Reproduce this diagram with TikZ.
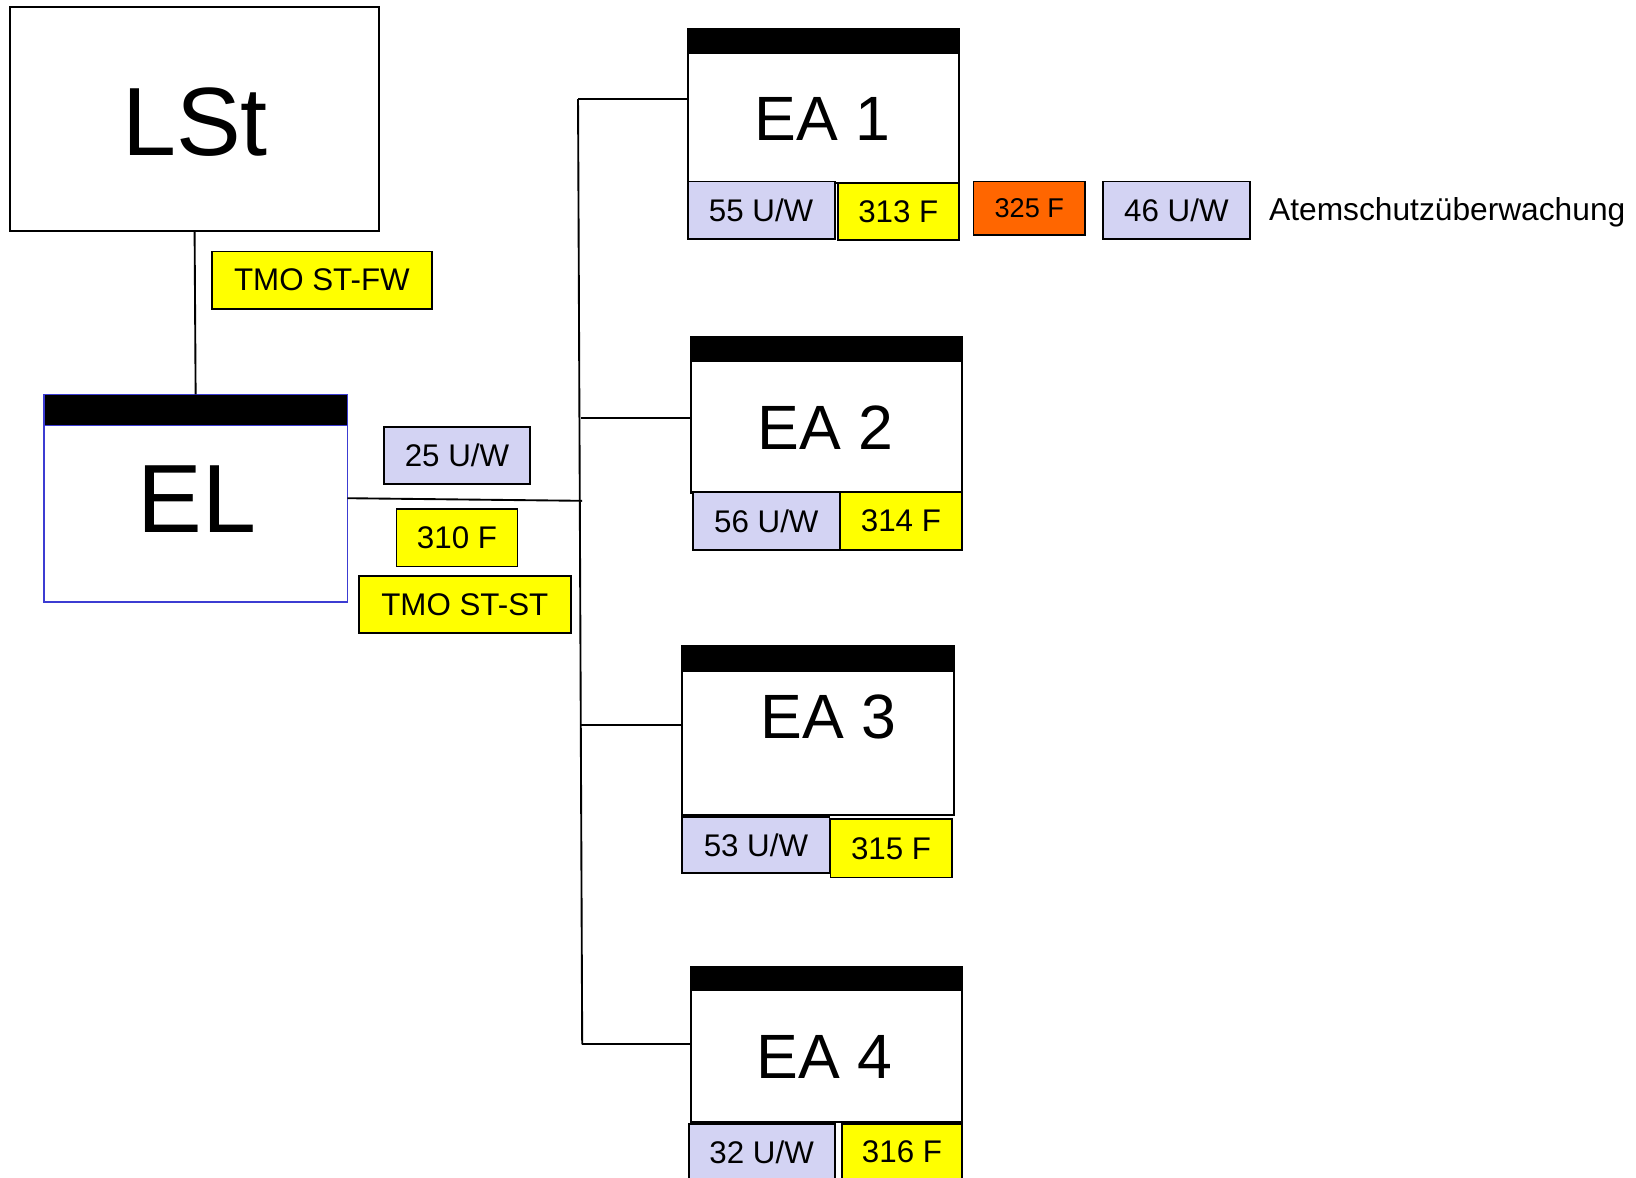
\documentclass[tikz,border=0pt]{standalone}
\usepackage{fontspec}
\setmainfont{Liberation Sans}
\usetikzlibrary{fit,calc}
\definecolor{lav}{RGB}{211,211,243}
\definecolor{yel}{RGB}{255,255,0}
\definecolor{org}{RGB}{255,102,0}
\definecolor{elblue}{RGB}{60,60,210}
\tikzset{
 box/.style={draw=black, line width=1pt, fill=white, inner sep=0pt, outer sep=0pt},
 elbox/.style={draw=elblue, line width=0.75pt, fill=white, inner sep=0pt, outer sep=0pt},
 lbl/.style={draw=black, line width=0.9pt, inner sep=0pt, outer sep=0pt, minimum height=27.5pt, font=\fontsize{15}{18}\selectfont},
 uw/.style={lbl, fill=lav, minimum width=70.5pt},
 ff/.style={lbl, fill=yel, minimum width=58pt},
 of/.style={lbl, fill=org, font=\fontsize{13}{16}\selectfont},
 eatext/.style={inner sep=0pt, font=\fontsize{30}{36}\selectfont},
 maintext/.style={inner sep=0pt, font=\fontsize{46.5}{56}\selectfont},
 conn/.style={line width=0.9pt, draw=black},
 topbar/.style={fill=black},
}
\begin{document}
\begin{tikzpicture}[x=0.5pt,y=-0.5pt]
\clip (0,0) rectangle (1568,1129);
\fill[white] (0,0) rectangle (1568,1129);
% trunk coordinates
\coordinate (t1) at (554,95);
\coordinate (t2) at (557,401);
\coordinate (t3) at (556,695);
\coordinate (t4) at (558,1001);
\coordinate (tel) at (558,480);
% main boxes
\node[box, fit={(10,7)(363,221)}] (lst) {};
\node[maintext] (lstt) at (187,117) {LSt};
\node[elbox, fit={(42,378)(333,577)}] (el) {};
\filldraw[fill=black, draw=elblue, line width=0.75pt] (el.north west) rectangle ($(el.north east)+(0,30)$);
\node[maintext] (elt) at (189,478) {EL};
% connectors
\draw[conn] (lst.south) -- (el.north);
\draw[conn] (t1) -- (t4);
\draw[conn] (el.east) -- (tel);
% EA boxes
\node[box, fit={(659,28)(919,175)}] (ea1) {};
\fill[topbar] (ea1.north west) rectangle ($(ea1.north east)+(0,24)$);
\node[eatext] (ea1t) at (788,114) {EA 1};
\node[box, fit={(662,323)(922,472)}] (ea2) {};
\fill[topbar] (ea2.north west) rectangle ($(ea2.north east)+(0,24)$);
\node[eatext] (ea2t) at (791,410) {EA 2};
\node[box, fit={(654,619)(914,781)}] (ea3) {};
\fill[topbar] (ea3.north west) rectangle ($(ea3.north east)+(0,25)$);
\node[eatext] (ea3t) at (794,687) {EA 3};
\node[box, fit={(662,927)(922,1075)}] (ea4) {};
\fill[topbar] (ea4.north west) rectangle ($(ea4.north east)+(0,23)$);
\node[eatext] (ea4t) at (790,1013) {EA 4};
\draw[conn] (t1) -- (t1 -| ea1.west);
\draw[conn] (t2) -- (t2 -| ea2.west);
\draw[conn] (t3) -- (t3 -| ea3.west);
\draw[conn] (t4) -- (t4 -| ea4.west);
% labels
\node[ff, minimum width=105.5pt] (tmofw) at (308.5,268.5) {TMO ST-FW};
\node[uw, minimum width=70pt] (uw25) at (438,436.5) {25 U/W};
\node[ff] (f310) at (438,515.5) {310 F};
\node[ff, minimum width=101.5pt] (tmost) at (445.5,579.5) {TMO ST-ST};
\node[uw] (uw55) at (729.5,201.5) {55 U/W};
\node[ff] (f313) at (861,202.5) {313 F};
\node[of, minimum width=53.5pt, minimum height=25.5pt] (f325) at (986.5,199.5) {325 F};
\node[uw] (uw46) at (1127.5,201.5) {46 U/W};
\node[anchor=base west, inner sep=0pt, font=\fontsize{15.2}{18}\selectfont] (asu) at (1216,211) {Atemschutzüberwachung};
\node[uw] (uw56) at (734.5,499.5) {56 U/W};
\node[ff, minimum width=58.5pt] (f314) at (863.5,499.5) {314 F};
\node[uw, minimum height=27pt] (uw53) at (724.5,810) {53 U/W};
\node[ff, minimum height=28pt] (f315) at (854,813) {315 F};
\node[uw, minimum width=70pt, minimum height=27pt] (uw32) at (730,1104) {32 U/W};
\node[ff, minimum width=57.5pt, minimum height=27pt] (f316) at (864.5,1104) {316 F};
\end{tikzpicture}
\end{document}
